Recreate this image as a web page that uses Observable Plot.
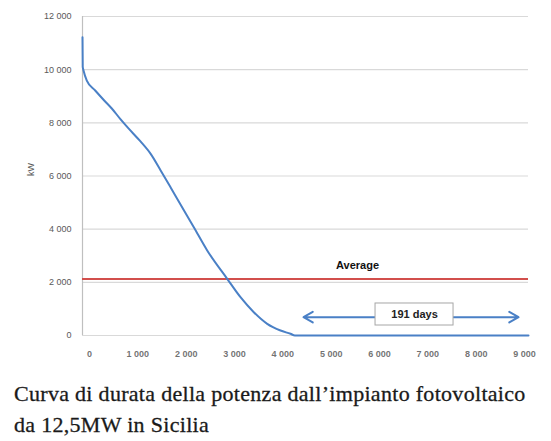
<!DOCTYPE html>
<html>
<head>
<meta charset="utf-8">
<script src="https://cdn.jsdelivr.net/npm/d3@7"></script>
<script src="https://cdn.jsdelivr.net/npm/@observablehq/plot@0.6"></script>
<style>
  html, body { margin: 0; padding: 0; background: #fff; }
  #chart svg { display: block; }
  .caption { font-family: "Liberation Serif", serif; font-size: 22px; color: #1a1a1a; line-height: 31px; margin: 8px 0 0 14px; letter-spacing: 0.3px; -webkit-text-stroke: 0.3px #1a1a1a; }
</style>
</head>
<body>
<div id="chart"></div>
<div class="caption">Curva di durata della potenza dall’impianto fotovoltaico<br>da 12,5MW in Sicilia</div>
<script>
// Duration curve (hours on the chart's x scale, kW)
const hours = [-145, -140, -124, -56, 118, 290, 461, 635, 807, 1055, 1262, 1469, 1676, 1883, 2158, 2435, 2849, 3124, 3399, 3677, 3952, 4159, 4250, 9083];
const power = [11220, 10100, 9970, 9590, 9216, 8870, 8540, 8150, 7790, 7300, 6840, 6220, 5580, 4930, 4075, 3200, 2133, 1440, 877, 440, 188, 64, 0, 0];
const average = 2130;
const averageLabel = "Average";
const yTicks = [0, 2000, 4000, 6000, 8000, 10000, 12000];
const xTicks = [0, 1000, 2000, 3000, 4000, 5000, 6000, 7000, 8000, 9000];
// "191 days" annotation
const spanLabel = "191 days";
const spanStart = 4428, spanEnd = 8877, spanLevel = 690;
const boxX = [5918, 7532], boxY = [376, 1204];

const curve = hours.map((h, i) => ({h, p: power[i]}));
const fmt = d => d3.format(",")(d).replace(",", " ");
const xMin = -145, xMax = 9083;

const chart = Plot.plot({
  width: 551,
  height: 370,
  marginLeft: 82,
  marginRight: 23,
  marginTop: 16,
  marginBottom: 35,
  style: {fontFamily: "'Liberation Sans', sans-serif", background: "#fff"},
  x: {domain: [xMin, xMax], axis: null},
  y: {domain: [0, 12000], axis: null},
  marks: [
    Plot.ruleY(yTicks, {stroke: "#d9d9d9", strokeWidth: 1.2}),
    Plot.ruleX([xMin], {stroke: "#bfbfbf", strokeWidth: 1.2}),
    Plot.axisY(yTicks, {tickSize: 0, tickPadding: 11, tickFormat: fmt, fontSize: 9, fill: "#595959", label: null}),
    Plot.axisX(xTicks, {tickSize: 0, tickPadding: 15, tickFormat: fmt, fontSize: 9, fill: "#595959", label: null, fontWeight: "bold", fillOpacity: 0.85}),
    Plot.text(["kW"], {frameAnchor: "left", dx: -51, rotate: -90, fontSize: 9, fill: "#595959"}),
    Plot.ruleY([average], {x1: xMin, x2: xMax, stroke: "#d24f4c", strokeWidth: 2}),
    Plot.text([averageLabel], {x: [5545], y: [2633], fontSize: 11, fontWeight: "bold", fill: "#111"}),
    Plot.line(curve, {x: "h", y: "p", stroke: "#4a80c6", strokeWidth: 2, curve: "monotone-x"}),
    Plot.arrow([{a: boxX[0], b: spanStart}, {a: boxX[1], b: spanEnd}], {x1: "a", y1: spanLevel, x2: "b", y2: spanLevel, stroke: "#4a80c6", strokeWidth: 2, headLength: 8, bend: 0}),
    Plot.rect([spanLabel], {x1: boxX[0], x2: boxX[1], y1: boxY[0], y2: boxY[1], fill: "#fff", stroke: "#a6a6a6", strokeWidth: 1}),
    Plot.text([spanLabel], {x: [(boxX[0] + boxX[1]) / 2], y: [(boxY[0] + boxY[1]) / 2], fontSize: 11, fontWeight: "bold", fill: "#222"})
  ]
});
document.getElementById("chart").append(chart);
</script>
</body>
</html>
